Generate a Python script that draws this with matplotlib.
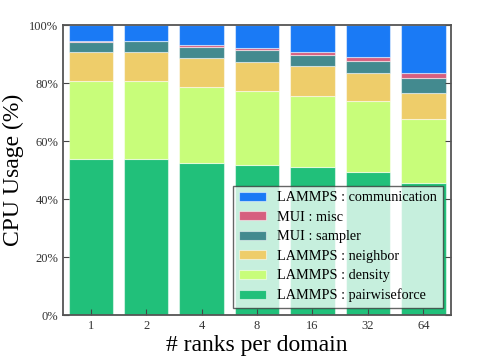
import numpy as np
import matplotlib
matplotlib.use("Agg")
import matplotlib.pyplot as plt
from matplotlib.ticker import FuncFormatter

matplotlib.rcParams["font.family"] = ["Liberation Serif", "DejaVu Serif"]

ranks = ["1", "2", "4", "8", "16", "32", "64"]
# cumulative tops (%), converted to segment sizes below
pairwise = [53.8, 53.8, 52.6, 51.8, 50.9, 49.5, 45.4]
density_top = [80.7, 80.7, 78.6, 77.2, 75.7, 73.8, 67.7]
neighbor_top = [90.8, 90.8, 88.8, 87.4, 85.9, 83.3, 76.7]
sampler_top = [94.3, 94.4, 92.4, 91.4, 89.8, 87.7, 81.6]
misc_top = [94.4, 94.5, 93.1, 92.0, 90.8, 89.1, 83.3]

labels = ["LAMMPS : pairwiseforce", "LAMMPS : density", "LAMMPS : neighbor",
          "MUI : sampler", "MUI : misc", "LAMMPS : communication"]
colors = ["#21c07a", "#c8fd7a", "#eecd6a", "#438a8f", "#d65f7f", "#1a7af5"]

tops = np.array([pairwise, density_top, neighbor_top, sampler_top, misc_top,
                 [100.0] * len(ranks)])
segs = np.diff(np.vstack([np.zeros(len(ranks)), tops]), axis=0)

fig, ax = plt.subplots(figsize=(4.85, 3.63), dpi=100)
fig.subplots_adjust(left=0.13, right=0.93, top=0.931, bottom=0.132)

x = np.arange(len(ranks))
bottom = np.zeros(len(ranks))
handles = []
for seg, lab, c in zip(segs, labels, colors):
    h = ax.bar(x, seg, 0.8, bottom=bottom, color=c, label=lab,
               edgecolor=(1, 1, 1, 0.5), linewidth=0.8)
    handles.append(h)
    bottom += seg

ax.set_xlim(-0.5, 6.5)
ax.set_ylim(0, 100)
ax.set_xticks(x)
ax.set_xticklabels(ranks)
ax.set_yticks([0, 20, 40, 60, 80, 100])
ax.yaxis.set_major_formatter(FuncFormatter(lambda v, p: "%d%%" % v))
ax.tick_params(direction="in", right=True, top=False, labelsize=9, length=4,
               color="#444444", labelcolor="#333333")
for s in ax.spines.values():
    s.set_color("#555555")
    s.set_linewidth(1.3)

ax.set_xlabel("# ranks per domain", fontsize=17, labelpad=2)
ax.set_ylabel("CPU Usage (%)", fontsize=17)

leg = ax.legend(handles[::-1], labels[::-1], loc="lower right", fontsize=10.3,
                framealpha=0.75, fancybox=False, edgecolor="#333333",
                handlelength=1.9, handleheight=0.6, labelspacing=0.45,
                handletextpad=0.8, borderpad=0.4, borderaxespad=0,
                bbox_to_anchor=(0.979, 0.024))
leg.get_frame().set_linewidth(1.0)

plt.savefig("out.png", dpi=100)
